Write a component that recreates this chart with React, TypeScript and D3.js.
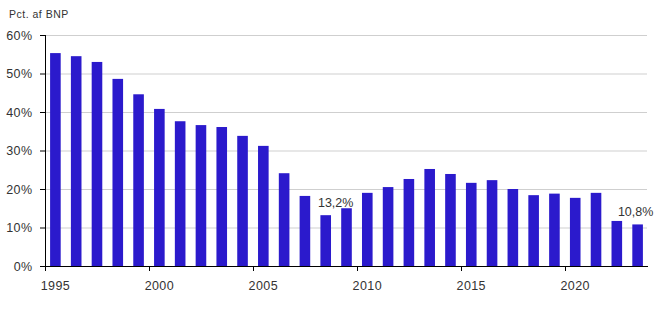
import React from "react";
import * as d3 from "d3";

const years = [1995,1996,1997,1998,1999,2000,2001,2002,2003,2004,2005,2006,2007,2008,2009,2010,2011,2012,2013,2014,2015,2016,2017,2018,2019,2020,2021,2022,2023];
const values = [55.3,54.5,53.0,48.6,44.6,40.8,37.6,36.6,36.1,33.8,31.2,24.1,18.2,13.2,15.0,19.0,20.5,22.6,25.2,23.9,21.6,22.3,20.0,18.4,18.8,17.7,19.0,11.7,10.8];
const yTicks = [0,10,20,30,40,50,60];
const xTickLabels = [1995,2000,2005,2010,2015,2020];
const labelledYears = [2008,2023];
const labelTexts = ["13,2%","10,8%"];
const yTitle = "Pct. af BNP";

const W = 668, H = 323;
const left = 45, right = 648, top = 35, bottom = 266;
const font = "'Liberation Sans', Arial, Helvetica, sans-serif";

export default function App() {
  const x = d3.scaleLinear().domain([1995, 2024]).range([left, right]);
  const y = d3.scaleLinear().domain([0, 60]).range([bottom, top]);
  const bw = 10.6;
  return (
    <svg width={W} height={H} style={{ position: "absolute", left: 0, top: 0 }} fontFamily={font}>
      <text x={9} y={17.5} fontSize={10.5} letterSpacing={0.5} fill="#333">{yTitle}</text>
      {yTicks.map(t => (
        <g key={t}>
          {t > 0 && <line x1={left} x2={right - 1} y1={y(t) + 0.5} y2={y(t) + 0.5} stroke="#cfcfcf" strokeWidth={1} />}
          <line x1={left - 5} x2={left} y1={y(t) + 0.5} y2={y(t) + 0.5} stroke="#000" strokeWidth={1} />
          <text x={32.5} y={y(t) + 4.5} textAnchor="end" fontSize={12.5} letterSpacing={0.4} fill="#333">{t}%</text>
        </g>
      ))}
      {years.map((yr, i) => (
        <rect key={yr} x={x(yr + 0.5) - bw / 2} y={y(values[i])} width={bw} height={bottom - y(values[i])} fill="#2b1acc" />
      ))}
      {labelledYears.map((yr, i) => {
        const v = values[years.indexOf(yr)];
        const dx = i === 0 ? 10 : -2;
        return (
          <text key={yr} x={x(yr + 0.5) + dx} y={y(v) - 8} textAnchor="middle" fontSize={12.5} fill="#333">{labelTexts[i]}</text>
        );
      })}
      <line x1={left + 0.5} x2={left + 0.5} y1={top} y2={bottom + 5} stroke="#000" strokeWidth={1} />
      <line x1={left} x2={right} y1={bottom + 0.5} y2={bottom + 0.5} stroke="#000" strokeWidth={1} />
      {xTickLabels.map(t => (
        <g key={t}>
          <line x1={Math.round(x(t)) + 0.5} x2={Math.round(x(t)) + 0.5} y1={bottom} y2={bottom + 5} stroke="#000" strokeWidth={1} />
          <text x={x(t + 0.5)} y={290} textAnchor="middle" fontSize={12.5} letterSpacing={0.4} fill="#333">{t}</text>
        </g>
      ))}
    </svg>
  );
}
